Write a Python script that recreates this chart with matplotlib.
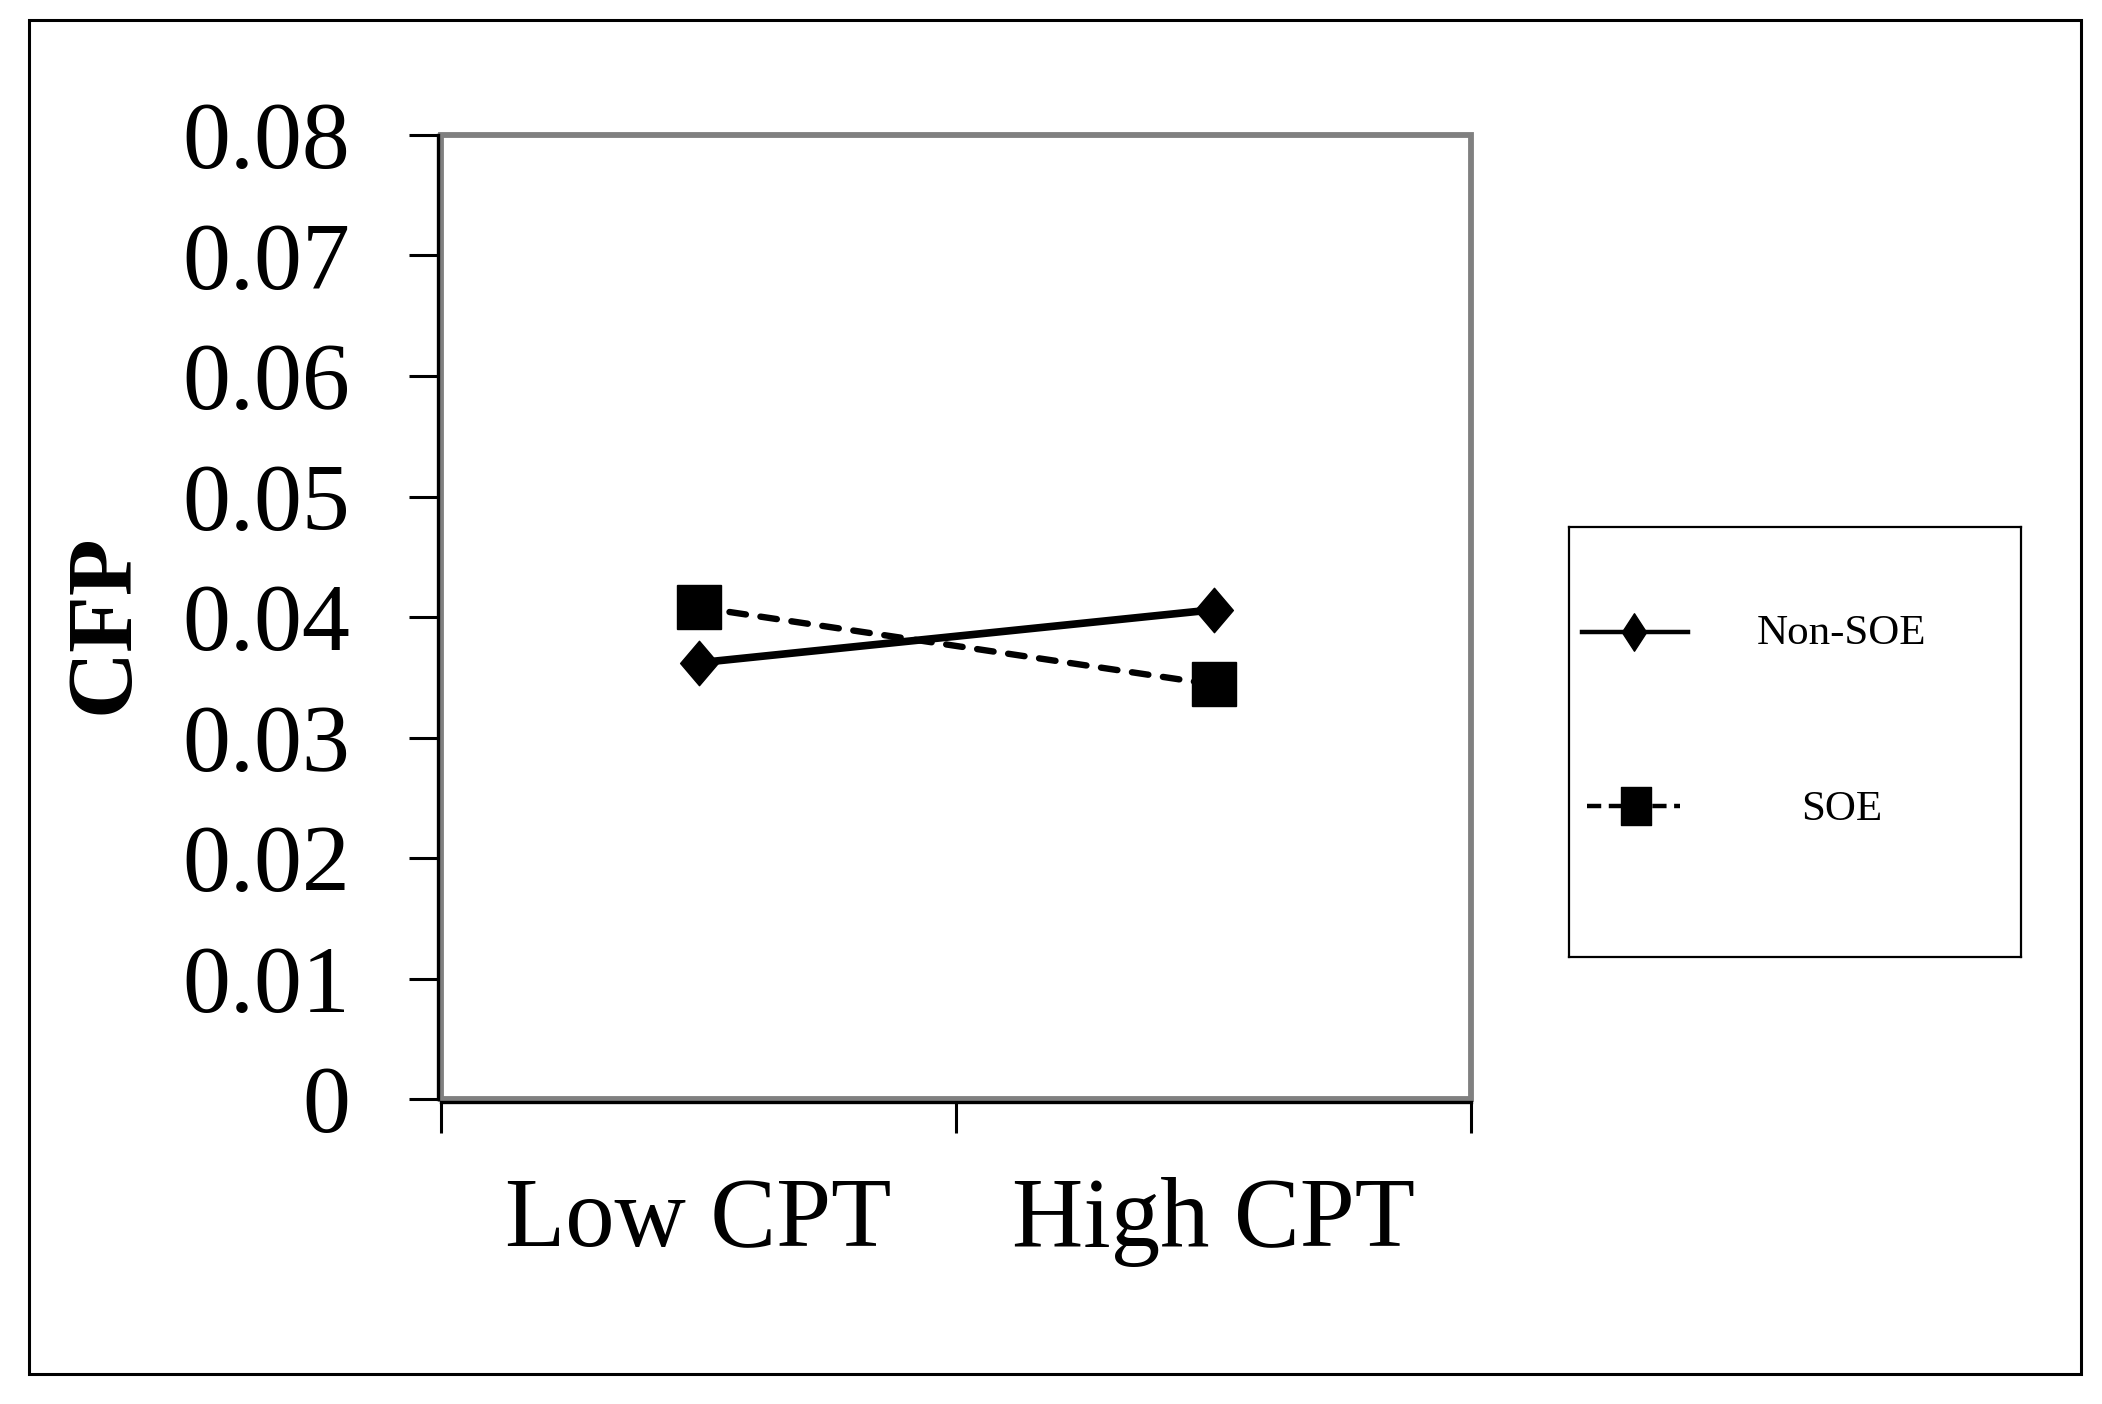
import matplotlib
matplotlib.use("Agg")
import matplotlib.pyplot as plt
from matplotlib.patches import Rectangle
from matplotlib.path import Path

# ---- data ----
categories = ["Low CPT", "High CPT"]
series_names = ["Non-SOE", "SOE"]
non_soe = [0.0362, 0.0406]
soe = [0.0408, 0.0344]
y_ticks = [0, 0.01, 0.02, 0.03, 0.04, 0.05, 0.06, 0.07, 0.08]
y_tick_labels = ["0", "0.01", "0.02", "0.03", "0.04", "0.05", "0.06", "0.07", "0.08"]
y_label = "CFP"

W, H = 2102, 1404
plt.rcParams['font.family'] = ['Liberation Serif', 'DejaVu Serif']
fig = plt.figure(figsize=(W / 100, H / 100), dpi=100)

# outer frame
fig.patches.append(Rectangle((29 / W, 1 - 1374 / H), (2081 - 29) / W, (1374 - 20) / H,
                             transform=fig.transFigure, fill=False, edgecolor='black', lw=2.2))

ax = fig.add_axes([441 / W, 1 - 1099 / H, (1471 - 441) / W, (1099 - 135) / H])

diamond = Path([(0, 1), (0.85, 0), (0, -1), (-0.85, 0), (0, 1)],
               [Path.MOVETO, Path.LINETO, Path.LINETO, Path.LINETO, Path.CLOSEPOLY])

xpos = list(range(1, len(categories) + 1))
ax.plot(xpos, non_soe, color='black', lw=5.5, marker=diamond, markersize=32,
        markerfacecolor='black', markeredgecolor='black', clip_on=False, zorder=3,
        solid_capstyle='butt')
ax.plot(xpos, soe, color='black', lw=4.6, linestyle=(0, (2.6, 2.3)), dash_capstyle='round',
        marker='s', markersize=31, markerfacecolor='black', markeredgecolor='black',
        clip_on=False, zorder=4)

ax.set_xlim(0.5, 2.5)
ax.set_ylim(0, 0.08)

# frame styling: gray box + black axis lines
for s in ['top', 'right']:
    ax.spines[s].set_visible(False)
for s in ['left', 'bottom']:
    ax.spines[s].set_color('black')
    ax.spines[s].set_linewidth(2.4)
    ax.spines[s].set_position(('outward', 2.5))
ax.add_patch(Rectangle((0, 0), 1, 1, transform=ax.transAxes, fill=False,
                       edgecolor='#808080', lw=4.2, clip_on=False, zorder=2))

ax.set_yticks(y_ticks)
ax.set_yticklabels(y_tick_labels)
ax.tick_params(axis='y', direction='out', length=21, width=2.2, pad=42, labelsize=69)

ax.set_xticks([0.5, 1.5, 2.5])
ax.set_xticklabels(["", "", ""])
ax.set_xticks(xpos, minor=True)
ax.set_xticklabels(categories, minor=True)
ax.tick_params(axis='x', which='major', direction='out', length=22, width=2.2)
ax.tick_params(axis='x', which='minor', length=0, pad=54, labelsize=71)

fig.text(105 / W, 1 - 624 / H, y_label, rotation=90, fontsize=67, fontweight='bold',
         ha='center', va='center')

# legend box (drawn manually)
lx0, lx1, ly0, ly1 = 1569, 2021, 527, 957
lax = fig.add_axes([lx0 / W, 1 - ly1 / H, (lx1 - lx0) / W, (ly1 - ly0) / H])
lax.set_xlim(0, lx1 - lx0)
lax.set_ylim(ly1 - ly0, 0)
lax.set_xticks([])
lax.set_yticks([])
for s in lax.spines.values():
    s.set_linewidth(1.6)
    s.set_color('black')

leg_diamond = Path([(0, 1), (0.65, 0), (0, -1), (-0.65, 0), (0, 1)],
                   [Path.MOVETO, Path.LINETO, Path.LINETO, Path.LINETO, Path.CLOSEPOLY])
leg_square = Path([(-0.82, -1), (0.82, -1), (0.82, 1), (-0.82, 1), (-0.82, -1)],
                  [Path.MOVETO, Path.LINETO, Path.LINETO, Path.LINETO, Path.CLOSEPOLY])

lax.plot([13, 119], [105, 105], color='black', lw=3.2)
lax.plot([65], [105], marker=leg_diamond, markersize=27, color='black', ls='none')
lax.text(273, 107, series_names[0], fontsize=31, ha='center', va='center')

lax.plot([18, 111], [279, 279], color='black', lw=3.2, linestyle=(0, (3.2, 1.7)))
lax.plot([67], [279], marker=leg_square, markersize=27, color='black', ls='none')
lax.text(273, 283, series_names[1], fontsize=31, ha='center', va='center')

fig.savefig("out.png", dpi=100)
